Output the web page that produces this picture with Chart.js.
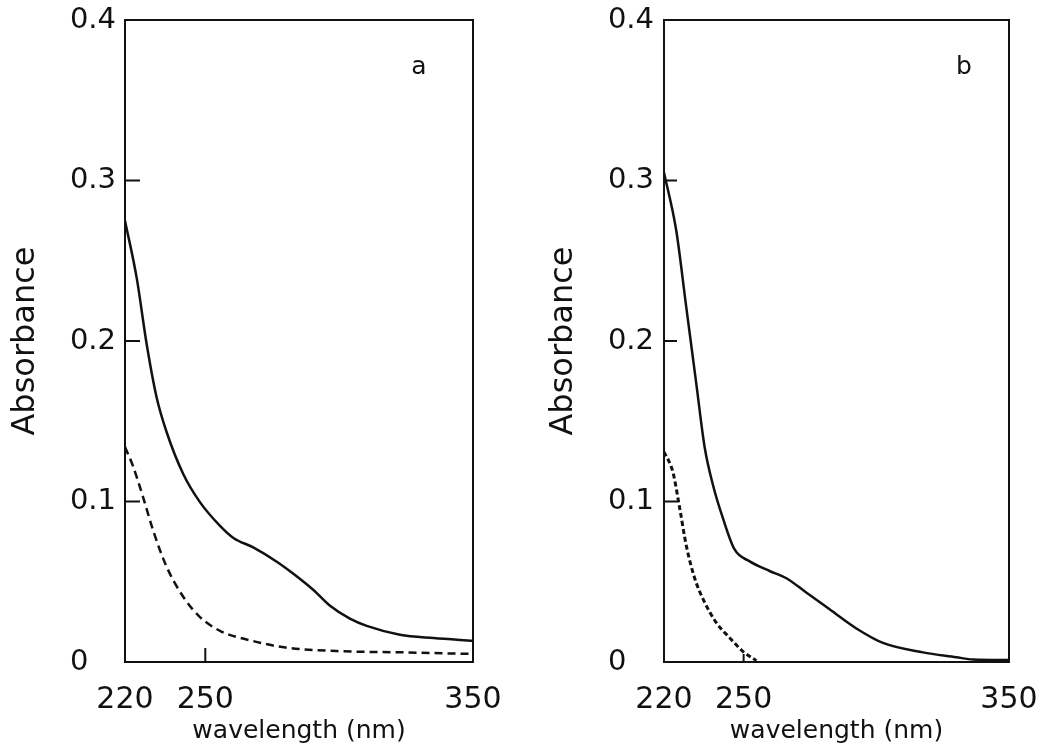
<!DOCTYPE html>
<html>
<head>
<meta charset="utf-8">
<script src="https://cdn.jsdelivr.net/npm/chart.js@4"></script>
<style>
html,body{margin:0;padding:0;background:#fff;width:1046px;height:750px;overflow:hidden}
canvas{position:absolute;top:0}
</style>
</head>
<body>
<canvas id="ca" width="523" height="750" style="left:0"></canvas>
<canvas id="cb" width="523" height="750" style="left:523px"></canvas>
<script>
// Tick labels
const wavelengthTicks = [220, 250, 350];
const absorbanceTicks = [0, 0.1, 0.2, 0.3, 0.4];
const panelLabels = ['a', 'b'];

// Panel a — solid
const aSolidWl  = [220, 224.4, 228.1, 231.8, 235.6, 241.8, 248, 255.5, 260.5, 267.9, 276.7, 282.9, 290.3, 296.6, 304, 310.3, 322.7, 335.2, 350];
const aSolidAbs = [0.275, 0.239, 0.198, 0.165, 0.143, 0.117, 0.0996, 0.0848, 0.0773, 0.0714, 0.0625, 0.055, 0.0450, 0.0350, 0.0270, 0.0225, 0.017, 0.0149, 0.0132];
// Panel a — dashed
const aDashWl  = [220, 223, 226.7, 230.5, 235.5, 242, 248, 256, 267, 280, 299, 324, 350];
const aDashAbs = [0.134, 0.122, 0.103, 0.082, 0.0595, 0.040, 0.028, 0.019, 0.0134, 0.009, 0.0068, 0.006, 0.005];

// Panel b — solid
const bSolidWl  = [220, 224.6, 228.4, 232.2, 235.3, 238.5, 242.2, 246.6, 252.3, 259.8, 266.1, 273.6, 282.4, 292.5, 302.5, 317.6, 330.1, 336.4, 350];
const bSolidAbs = [0.305, 0.269, 0.221, 0.173, 0.134, 0.110, 0.0896, 0.0701, 0.0627, 0.0567, 0.0522, 0.0433, 0.0328, 0.0209, 0.0119, 0.006, 0.003, 0.0015, 0.0012];
// Panel b — dashed
const bDashWl  = [220, 223.4, 225.9, 228.4, 231.6, 235.3, 239.7, 244.8, 249.8, 254.8];
const bDashAbs = [0.131, 0.118, 0.0960, 0.0725, 0.0520, 0.0372, 0.0245, 0.0150, 0.0065, 0.0008];

const FONT = '"DejaVu Sans", "Liberation Sans", sans-serif';
const INK = '#111';

const framePlugin = {
  id: 'frame',
  afterDatasetsDraw(chart, args, o) {
    const {ctx, chartArea: ca, scales} = chart;
    ctx.save();
    ctx.strokeStyle = INK;
    ctx.lineWidth = 2;
    ctx.strokeRect(ca.left, ca.top, ca.right - ca.left, ca.bottom - ca.top);
    ctx.beginPath();
    o.yMarks.forEach(v => {
      const y = scales.y.getPixelForValue(v);
      ctx.moveTo(ca.left, y); ctx.lineTo(ca.left + o.yLen, y);
    });
    o.xMarks.forEach(v => {
      const x = scales.x.getPixelForValue(v);
      ctx.moveTo(x, ca.bottom); ctx.lineTo(x, ca.bottom - o.xLen);
    });
    ctx.stroke();
    ctx.font = '25px ' + FONT;
    ctx.fillStyle = INK;
    ctx.textAlign = 'center';
    ctx.textBaseline = 'alphabetic';
    ctx.fillText(o.letter, ca.right + o.letterDx, ca.top + o.letterDy);
    ctx.restore();
  }
};

function pts(xs, ys) { return xs.map((x, i) => ({x: x, y: ys[i]})); }
function noPad(s) { s.paddingLeft = 0; s.paddingRight = 0; s.paddingTop = 0; s.paddingBottom = 0; }

function makeChart(id, cfg) {
  return new Chart(document.getElementById(id), {
    type: 'scatter',
    data: {
      datasets: [
        {data: pts(cfg.solidWl, cfg.solidAbs), showLine: true, borderColor: INK, borderWidth: 2.5,
         pointRadius: 0, cubicInterpolationMode: 'monotone', tension: 0.3},
        {data: pts(cfg.dashWl, cfg.dashAbs), showLine: true, borderColor: INK, borderWidth: cfg.dashWidth,
         borderDash: cfg.dash, pointRadius: 0, cubicInterpolationMode: 'monotone', tension: 0.3}
      ]
    },
    options: {
      responsive: false,
      animation: false,
      events: [],
      layout: {padding: {left: 0, right: cfg.padRight, top: 20, bottom: 0}},
      plugins: {
        legend: {display: false},
        tooltip: {enabled: false},
        frame: {yMarks: [0.1, 0.2, 0.3], yLen: cfg.yLen, xMarks: [250], xLen: cfg.xLen,
                letter: cfg.letter, letterDx: cfg.letterDx, letterDy: 54}
      },
      scales: {
        x: {
          type: 'linear', min: 220, max: 350,
          grid: {display: false},
          border: {display: false},
          afterBuildTicks: s => { s.ticks = wavelengthTicks.map(v => ({value: v})); },
          afterFit: s => { s.height = 88; noPad(s); },
          ticks: {autoSkip: false, maxRotation: 0, padding: 12, color: INK,
                  font: {family: FONT, size: 30}, callback: v => String(v)},
          title: {display: true, text: 'wavelength (nm)', color: INK,
                  font: {family: FONT, size: 25}, padding: {top: 0, bottom: 4}}
        },
        y: {
          type: 'linear', min: 0, max: 0.4,
          grid: {display: false},
          border: {display: false},
          afterBuildTicks: s => { s.ticks = absorbanceTicks.map(v => ({value: v})); },
          afterFit: s => { s.width = cfg.yWidth; noPad(s); },
          ticks: {padding: cfg.yPad, color: INK, font: {family: FONT, size: 29},
                  callback: v => (v === 0 ? '0   ' : v.toFixed(1))},
          title: {display: true, text: 'Absorbance', color: INK,
                  font: {family: FONT, size: 32}, padding: {top: cfg.titlePad, bottom: 0}}
        }
      }
    },
    plugins: [framePlugin]
  });
}

makeChart('ca', {
  solidWl: aSolidWl, solidAbs: aSolidAbs, dashWl: aDashWl, dashAbs: aDashAbs,
  dash: [8, 5], dashWidth: 2.5, padRight: 50, yWidth: 125, yPad: 1, titlePad: 6,
  yLen: 15, xLen: 14, letter: panelLabels[0], letterDx: -54
});
makeChart('cb', {
  solidWl: bSolidWl, solidAbs: bSolidAbs, dashWl: bDashWl, dashAbs: bDashAbs,
  dash: [5, 3], dashWidth: 3, padRight: 37, yWidth: 141, yPad: 2, titlePad: 21,
  yLen: 13, xLen: 8, letter: panelLabels[1], letterDx: -45
});
</script>
</body>
</html>
